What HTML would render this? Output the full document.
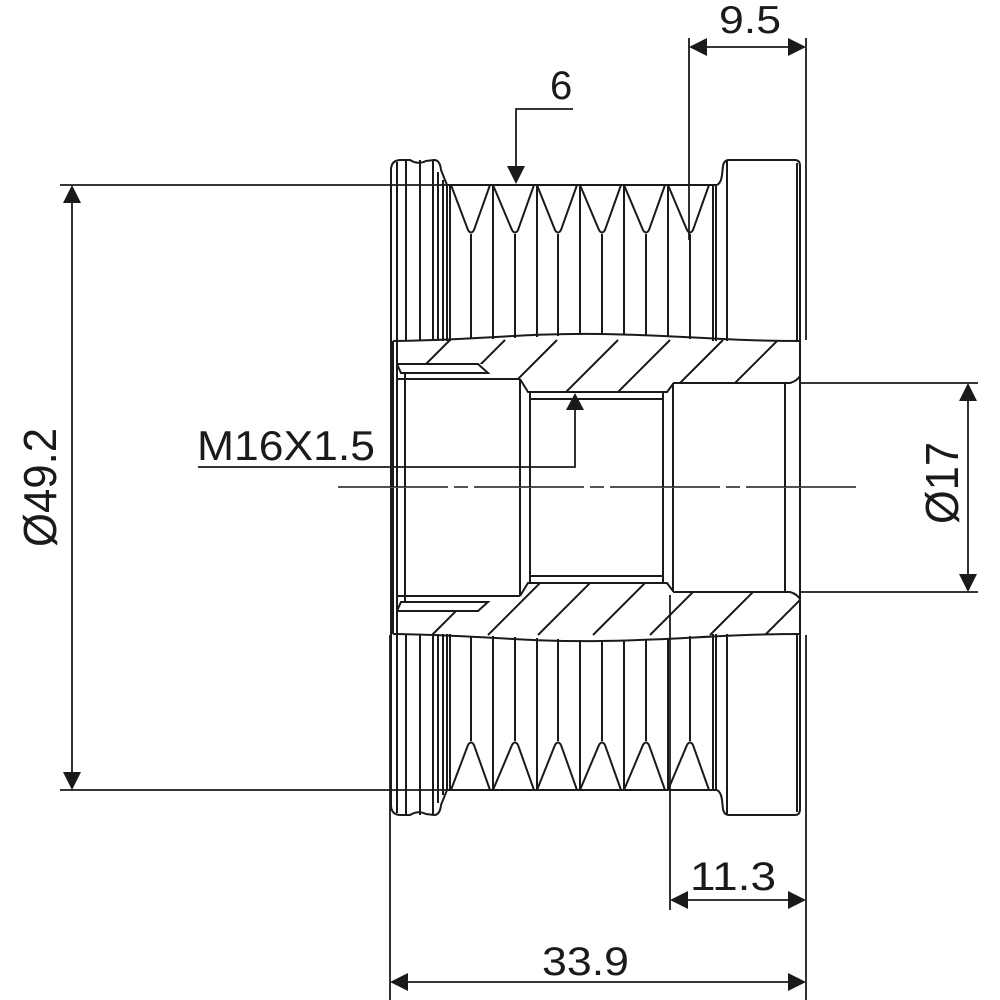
<!DOCTYPE html>
<html><head><meta charset="utf-8"><style>
html,body{margin:0;padding:0;background:#fff;}
svg{display:block;}
text{font-family:"Liberation Sans",Arial,sans-serif;fill:#1a1a1a;}
</style></head><body>
<svg width="1000" height="1000" viewBox="0 0 1000 1000" xmlns="http://www.w3.org/2000/svg">
<defs>
<clipPath id="ct"><path d="M393,341 C480,340 520,333 600,334 C680,335 720,341 800,341 L800,383 L673,383 L667,392 L528,392 L520,379 L492,379 L488,364 L397,364 Z"/></clipPath>
<clipPath id="cb"><path d="M393,634 C480,635 520,642 600,641 C680,640 720,634 800,634 L800,592 L673,592 L667,583 L528,583 L520,596 L492,596 L488,611 L397,611 Z"/></clipPath>
</defs>
<g fill="none" stroke="#1a1a1a" stroke-width="2">
  <path d="M391,487 V170 Q391,160 401,160 L410,160 Q418,165 426,161 L434,160 Q440,160 441,170 L447,185"/>
  <line x1="397" y1="162" x2="397" y2="487"/>
  <line x1="406" y1="160" x2="406" y2="341"/>
  <line x1="420" y1="160" x2="420" y2="341"/>
  <line x1="433" y1="160" x2="433" y2="341"/>
  <line x1="438" y1="172" x2="438" y2="341"/>
  <line x1="443" y1="180" x2="443" y2="341"/>
  <line x1="447" y1="185" x2="447" y2="341"/>
  <line x1="450" y1="185" x2="450" y2="341"/>
  <line x1="447" y1="185" x2="717" y2="185"/>
  <path d="M451,185 L468,230 Q471,235 474,230 L490,185 M493,185 L512,230 Q515,235 518,230 L534,185 M537,185 L555,230 Q558,235 561,230 L577,185 M580,185 L599,230 Q602,235 605,230 L621,185 M624,185 L643,230 Q646,235 649,230 L665,185 M668,185 L687,230 Q690,235 693,230 L709,185"/>
  <path d="M471,234 V339 M515,234 V338 M558,234 V336 M602,234 V335 M646,234 V336 M690,234 V339"/>
  <path d="M493,185 V339 M537,185 V337 M580,185 V335 M624,185 V335 M668,185 V337"/>
  <line x1="713" y1="185" x2="713" y2="341"/>
  <line x1="716" y1="185" x2="716" y2="341"/>
  <path d="M717,185 Q721,183 722,175 L723,166 Q724,160 729,160 L795,160 Q800,160 800,166 V487"/>
  <line x1="727" y1="161" x2="727" y2="341"/>
  <line x1="797" y1="163" x2="797" y2="341"/>
  <path d="M393,341 C480,340 520,333 600,334 C680,335 720,341 800,341"/>
  <line x1="393" y1="341" x2="393" y2="487"/>
  <path d="M397,364 L478,364 L488,373 L401,373 L397,364"/>
  <line x1="397" y1="379" x2="520" y2="379"/>
  <line x1="405" y1="373" x2="405" y2="487"/>
  <line x1="520" y1="379" x2="520" y2="487"/>
  <path d="M520,379 L528,392 L667,392 L673,384"/>
  <line x1="530" y1="399" x2="663" y2="399"/>
  <line x1="530" y1="392" x2="530" y2="487"/>
  <line x1="663" y1="392" x2="663" y2="487"/>
  <line x1="673" y1="383" x2="673" y2="487"/>
  <path d="M673,383 L790,383 Q797,381 800,376"/>
  <line x1="785" y1="383" x2="785" y2="487"/>
</g>
<g fill="none" stroke="#1a1a1a" stroke-width="2" transform="translate(0,975) scale(1,-1)">
  <path d="M391,487 V170 Q391,160 401,160 L410,160 Q418,165 426,161 L434,160 Q440,160 441,170 L447,185"/>
  <line x1="397" y1="162" x2="397" y2="487"/>
  <line x1="406" y1="160" x2="406" y2="341"/>
  <line x1="420" y1="160" x2="420" y2="341"/>
  <line x1="433" y1="160" x2="433" y2="341"/>
  <line x1="438" y1="172" x2="438" y2="341"/>
  <line x1="443" y1="180" x2="443" y2="341"/>
  <line x1="447" y1="185" x2="447" y2="341"/>
  <line x1="450" y1="185" x2="450" y2="341"/>
  <line x1="447" y1="185" x2="717" y2="185"/>
  <path d="M451,185 L468,230 Q471,235 474,230 L490,185 M493,185 L512,230 Q515,235 518,230 L534,185 M537,185 L555,230 Q558,235 561,230 L577,185 M580,185 L599,230 Q602,235 605,230 L621,185 M624,185 L643,230 Q646,235 649,230 L665,185 M668,185 L687,230 Q690,235 693,230 L709,185"/>
  <path d="M471,234 V339 M515,234 V338 M558,234 V336 M602,234 V335 M646,234 V336 M690,234 V339"/>
  <path d="M493,185 V339 M537,185 V337 M580,185 V335 M624,185 V335 M668,185 V337"/>
  <line x1="713" y1="185" x2="713" y2="341"/>
  <line x1="716" y1="185" x2="716" y2="341"/>
  <path d="M717,185 Q721,183 722,175 L723,166 Q724,160 729,160 L795,160 Q800,160 800,166 V487"/>
  <line x1="727" y1="161" x2="727" y2="341"/>
  <line x1="797" y1="163" x2="797" y2="341"/>
  <path d="M393,341 C480,340 520,333 600,334 C680,335 720,341 800,341"/>
  <line x1="393" y1="341" x2="393" y2="487"/>
  <path d="M397,364 L478,364 L488,373 L401,373 L397,364"/>
  <line x1="397" y1="379" x2="520" y2="379"/>
  <line x1="405" y1="373" x2="405" y2="487"/>
  <line x1="520" y1="379" x2="520" y2="487"/>
  <path d="M520,379 L528,392 L667,392 L673,384"/>
  <line x1="530" y1="399" x2="663" y2="399"/>
  <line x1="530" y1="392" x2="530" y2="487"/>
  <line x1="663" y1="392" x2="663" y2="487"/>
  <line x1="673" y1="383" x2="673" y2="487"/>
  <path d="M673,383 L790,383 Q797,381 800,376"/>
  <line x1="785" y1="383" x2="785" y2="487"/>
</g>
<g stroke="#1a1a1a" stroke-width="2" clip-path="url(#ct)">
  <path d="M390,400 L450,340 M445,400 L505,340 M497,400 L557,340 M558,400 L618,340 M610,400 L670,340 M663,400 L723,340 M718,400 L778,340"/>
</g>
<g stroke="#1a1a1a" stroke-width="2" clip-path="url(#cb)">
  <path d="M432,635 L492,575 M488,635 L548,575 M538,635 L598,575 M593,635 L653,575 M650,635 L710,575 M710,635 L770,575 M765,635 L825,575"/>
</g>
<line x1="338" y1="487" x2="858" y2="487" stroke="#1a1a1a" stroke-width="1.5" stroke-dasharray="110 6 14 6"/>
<g stroke="#1a1a1a" stroke-width="1.8" fill="none">
  <line x1="60" y1="185" x2="447" y2="185"/>
  <line x1="60" y1="790" x2="447" y2="790"/>
  <line x1="72" y1="190" x2="72" y2="785"/>
  <line x1="800" y1="383" x2="978" y2="383"/>
  <line x1="800" y1="592" x2="978" y2="592"/>
  <line x1="968" y1="388" x2="968" y2="587"/>
  <line x1="689" y1="38" x2="689" y2="240"/>
  <line x1="806" y1="38" x2="806" y2="340"/>
  <line x1="694" y1="47" x2="801" y2="47"/>
  <polyline points="573,109 516,109 516,175"/>
  <polyline points="198,467 575,467 575,400"/>
  <line x1="670" y1="595" x2="670" y2="910"/>
  <line x1="806" y1="635" x2="806" y2="1000"/>
  <line x1="390" y1="635" x2="390" y2="1000"/>
  <line x1="675" y1="900" x2="801" y2="900"/>
  <line x1="395" y1="982" x2="801" y2="982"/>
</g>
<g fill="#1a1a1a">
  <polygon points="72,185 63,203 81,203"/>
  <polygon points="72,790 63,772 81,772"/>
  <polygon points="968,383 959,401 977,401"/>
  <polygon points="968,592 959,574 977,574"/>
  <polygon points="689,47 707,38 707,56"/>
  <polygon points="806,47 788,38 788,56"/>
  <polygon points="516,184 507,166 525,166"/>
  <polygon points="575,393 566,410 584,410"/>
  <polygon points="670,900 688,891 688,909"/>
  <polygon points="806,900 788,891 788,909"/>
  <polygon points="390,982 408,973 408,991"/>
  <polygon points="806,982 788,973 788,991"/>
</g>
<text x="719" y="33" font-size="39" textLength="62" lengthAdjust="spacingAndGlyphs">9.5</text>
<text x="550" y="99" font-size="40">6</text>
<text x="197" y="460" font-size="42" textLength="178" lengthAdjust="spacingAndGlyphs">M16X1.5</text>
<text x="690" y="890" font-size="40" textLength="86" lengthAdjust="spacingAndGlyphs">11.3</text>
<text x="542" y="975" font-size="40" textLength="87" lengthAdjust="spacingAndGlyphs">33.9</text>
<text transform="translate(56,547) rotate(-90)" font-size="46" textLength="119" lengthAdjust="spacingAndGlyphs">Ø49.2</text>
<text transform="translate(958,524) rotate(-90)" font-size="46" textLength="82" lengthAdjust="spacingAndGlyphs">Ø17</text>
</svg>
</body></html>
